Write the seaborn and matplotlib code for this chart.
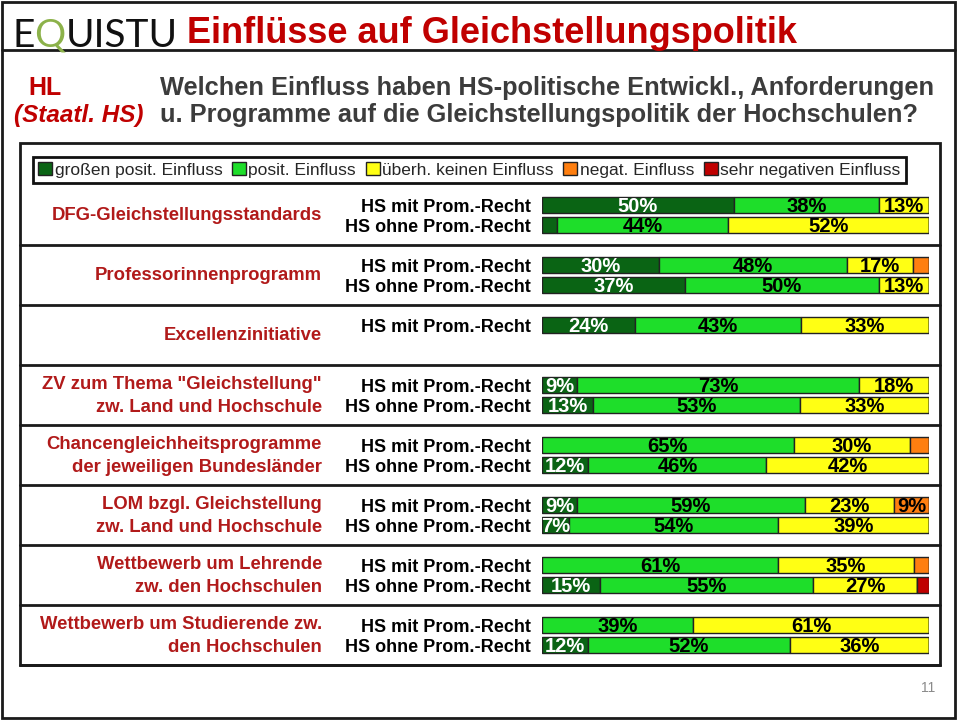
import numpy as np
import pandas as pd
import seaborn as sns
import matplotlib.pyplot as plt
from matplotlib import transforms
from matplotlib.patches import Rectangle

# --- data ---
categories = ['DFG-Gleichstellungsstandards',
              'Professorinnenprogramm',
              'Excellenzinitiative',
              'ZV zum Thema "Gleichstellung"\nzw. Land und Hochschule',
              'Chancengleichheitsprogramme\nder jeweiligen Bundesländer',
              'LOM bzgl. Gleichstellung\nzw. Land und Hochschule',
              'Wettbewerb um Lehrende\nzw. den Hochschulen',
              'Wettbewerb um Studierende zw.\nden Hochschulen']
row_group = [0, 0, 1, 1, 2, 3, 3, 4, 4, 5, 5, 6, 6, 7, 7]
row_type = ['mit', 'ohne', 'mit', 'ohne', 'mit', 'mit', 'ohne', 'mit', 'ohne',
            'mit', 'ohne', 'mit', 'ohne', 'mit', 'ohne']
type_labels = {'mit': 'HS mit Prom.-Recht', 'ohne': 'HS ohne Prom.-Recht'}

gross_pos = [50, 4, 30, 37, 24, 9, 13, 0, 12, 9, 7, 0, 15, 0, 12]
pos = [38, 44, 48, 50, 43, 73, 53, 65, 46, 59, 54, 61, 55, 39, 52]
keine = [13, 52, 17, 13, 33, 18, 33, 30, 42, 23, 39, 35, 27, 61, 36]
negat = [0, 0, 4, 0, 0, 0, 0, 5, 0, 9, 0, 4, 0, 0, 0]
sehr_neg = [0, 0, 0, 0, 0, 0, 0, 0, 0, 0, 0, 0, 3, 0, 0]

levels = ['großen posit. Einfluss', 'posit. Einfluss', 'überh. keinen Einfluss',
          'negat. Einfluss', 'sehr negativen Einfluss']
colors = ['#0a6414', '#1ede2a', '#ffff14', '#ff7f10', '#c00000']
text_colors = ['white', 'black', 'black', 'black', 'white']

df = pd.DataFrame({'group': row_group, 'type': row_type,
                   levels[0]: gross_pos, levels[1]: pos, levels[2]: keine,
                   levels[3]: negat, levels[4]: sehr_neg})
df['y'] = df['group'] * 3 + (df['type'] == 'ohne').astype(int)
df['total'] = df[levels].sum(axis=1)

sns.set_theme(style='white')
plt.rcParams['font.family'] = ['Liberation Sans', 'DejaVu Sans']
narrow = ['Liberation Sans Narrow', 'Liberation Sans']

W, H = 960, 721
fig = plt.figure(figsize=(9.6, 7.21), dpi=100)


def fx(px):
    return px / W


def fy(py):
    return 1 - py / H


ax = fig.add_axes([fx(542), fy(657), fx(929) - fx(542), 462 / H])

# stacked 100% bars
left = np.zeros(len(df))
for lvl, col, tcol in zip(levels, colors, text_colors):
    width = df[lvl] / df['total'] * 100
    ax.barh(df['y'], width, left=left, height=0.8, color=col,
            edgecolor='#222222', linewidth=1, label=lvl)
    for yv, l, w, v in zip(df['y'], left, width, df[lvl]):
        if v >= 7:
            ax.text(l + w / 2, yv + 0.08, f'{v}%', ha='center', va='center',
                    fontsize=14.5, fontweight='bold', color=tcol, family=narrow)
    left = left + width.values

ax.set_xlim(0, 100)
ax.set_ylim(22.6, -0.5)
ax.set_xticks([])
ax.set_yticks(df['y'])
ax.set_yticklabels([type_labels[t] for t in df['type']], fontsize=13,
                   fontweight='bold', color='black')
ax.tick_params(axis='y', length=0, pad=8)
sns.despine(ax=ax, left=True, bottom=True)
ax.patch.set_alpha(0)

# category labels and separators
blend = transforms.blended_transform_factory(fig.transFigure, ax.transData)
for g, cat in enumerate(categories):
    ax.text(fx(322), g * 3 + 0.55, cat, transform=blend, ha='right', va='center',
            multialignment='right', fontsize=13.3, fontweight='bold',
            color='#b11a1a', linespacing=1.4)
    ax.plot([fx(20), fx(940)], [g * 3 + 2, g * 3 + 2], transform=blend,
            clip_on=False, color='#1a1a1a', lw=2)

# frames
fig.add_artist(Rectangle((fx(20), fy(665)), fx(940) - fx(20), (665 - 143) / H,
                         transform=fig.transFigure, fill=False,
                         edgecolor='#1a1a1a', lw=2))
fig.add_artist(Rectangle((fx(2), fy(718)), fx(955) - fx(2), (718 - 2) / H,
                         transform=fig.transFigure, fill=False,
                         edgecolor='#1a1a1a', lw=2))
fig.add_artist(plt.Line2D([fx(2), fx(955)], [fy(50), fy(50)],
                          transform=fig.transFigure, color='#1a1a1a', lw=2))

# legend
handles, labels = ax.get_legend_handles_labels()
leg = fig.legend(handles, labels, loc='upper left',
                 bbox_to_anchor=(fx(33), fy(157)), ncol=5, frameon=True,
                 fancybox=False, edgecolor='#111111', framealpha=1,
                 handlelength=0.8, handleheight=0.8, handletextpad=0.15,
                 columnspacing=0.55, borderpad=0.3, borderaxespad=0,
                 prop={'family': narrow, 'size': 12.5})
leg.get_frame().set_linewidth(2)

# header
renderer = fig.canvas.get_renderer()
x0 = fx(12)
for part, col in [('E', '#111111'), ('Q', '#8cb24a'), ('UISTU', '#111111')]:
    t = fig.text(x0, fy(47), part, fontsize=28, color=col, family='Lato',
                 va='baseline', ha='left')
    bb = t.get_window_extent(renderer)
    x0 = bb.x1 / W

fig.text(fx(187), fy(43), 'Einflüsse auf Gleichstellungspolitik', fontsize=26,
         fontweight='bold', color='#c00000', va='baseline')
fig.text(fx(28), fy(95), 'HL', fontsize=18, fontweight='bold', color='#c00000',
         va='baseline')
fig.text(fx(14), fy(122), '(Staatl. HS)', fontsize=17.5, style='italic',
         fontweight='bold', color='#c00000', va='baseline')
fig.text(fx(160), fy(95),
         'Welchen Einfluss haben HS-politische Entwickl., Anforderungen',
         fontsize=18.3, fontweight='bold', color='#3c3c3c', va='baseline')
fig.text(fx(160), fy(122),
         'u. Programme auf die Gleichstellungspolitik der Hochschulen?',
         fontsize=18.3, fontweight='bold', color='#3c3c3c', va='baseline')
fig.text(fx(935), fy(688), '11', fontsize=10, color='#8a8a8a', ha='right',
         va='center')

fig.savefig('out.png', dpi=100, facecolor='white')
